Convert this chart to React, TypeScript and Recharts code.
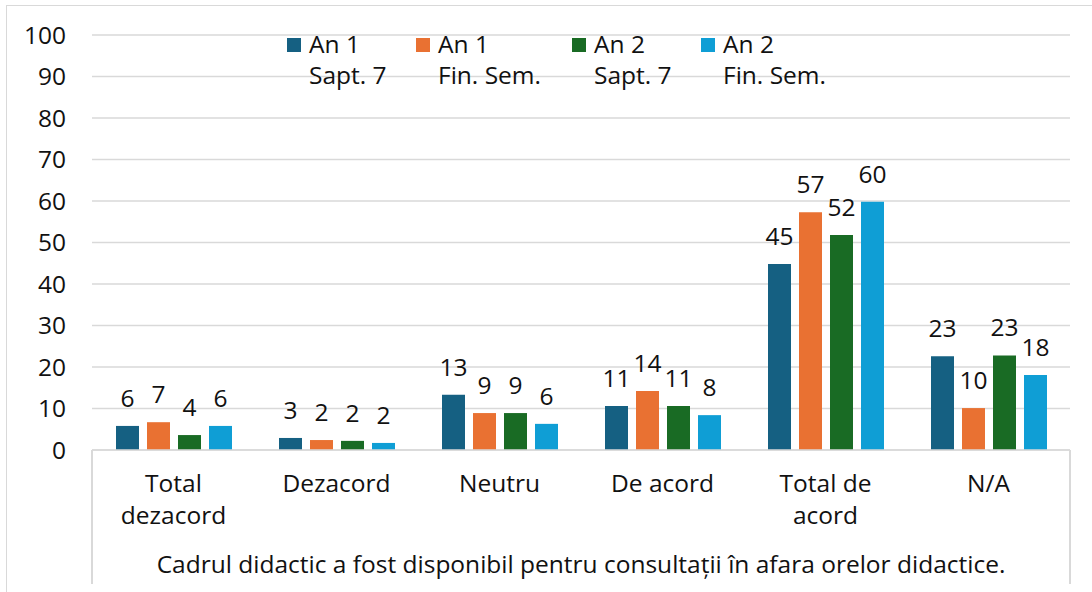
import React from 'react';
import { BarChart, Bar, XAxis, YAxis, CartesianGrid, Legend, LabelList } from 'recharts';

const categories = ['Total\ndezacord', 'Dezacord', 'Neutru', 'De acord', 'Total de\nacord', 'N/A'];
const an1Sapt7 = [5.8, 2.9, 13.3, 10.6, 44.8, 22.6];
const an1FinSem = [6.7, 2.4, 8.9, 14.2, 57.3, 10.1];
const an2Sapt7 = [3.6, 2.2, 8.9, 10.6, 51.8, 22.8];
const an2FinSem = [5.8, 1.7, 6.3, 8.4, 59.8, 18.1];
const yTicks = [0, 10, 20, 30, 40, 50, 60, 70, 80, 90, 100];
const axisTitle = 'Cadrul didactic a fost disponibil pentru consultații în afara orelor didactice.';

const series = [
  { key: 'a1s7', name: 'An 1\nSapt. 7', color: '#156082' },
  { key: 'a1fs', name: 'An 1\nFin. Sem.', color: '#E97132' },
  { key: 'a2s7', name: 'An 2\nSapt. 7', color: '#196B24' },
  { key: 'a2fs', name: 'An 2\nFin. Sem.', color: '#0F9ED5' },
];

const data = categories.map((c, i) => ({
  category: c,
  a1s7: an1Sapt7[i],
  a1fs: an1FinSem[i],
  a2s7: an2Sapt7[i],
  a2fs: an2FinSem[i],
}));

const FONT = '"Open Sans", "Liberation Sans", Arial, sans-serif';
const FS = 24.5;
const TEXT = '#111';
const GRID = '#d9d9d9';
// legend item widths (square + text + spacing), as in the reference
const legendWidths = [129, 156, 129, 140];

function CategoryTick({ x, y, payload }: any) {
  const lines = String(payload.value).split('\n');
  return (
    <g>
      {lines.map((l, i) => (
        <text key={i} x={x} y={y + 42 + i * 32} textAnchor="middle" fill={TEXT} fontSize={FS} fontFamily={FONT}>
          {l}
        </text>
      ))}
    </g>
  );
}

function LegendContent() {
  return (
    <div style={{ display: 'flex', fontFamily: FONT, fontSize: FS, color: TEXT }}>
      {series.map((s, i) => {
        const [l1, l2] = s.name.split('\n');
        return (
          <div key={s.key} style={{ display: 'flex', alignItems: 'flex-start', width: legendWidths[i] }}>
            <div style={{ width: 14, height: 14, background: s.color, marginTop: 10, marginRight: 8, flex: 'none' }} />
            <div style={{ lineHeight: '31px', whiteSpace: 'nowrap' }}>
              <div>{l1}</div>
              <div>{l2}</div>
            </div>
          </div>
        );
      })}
    </div>
  );
}

export default function App() {
  return (
    <div style={{ position: 'absolute', left: 0, top: 0, width: 1092, height: 592, overflow: 'hidden', background: '#fff' }}>
      <div
        style={{
          position: 'absolute',
          left: 6,
          top: 5,
          width: 1200,
          height: 700,
          borderTop: `1.5px solid ${GRID}`,
          borderLeft: `1.5px solid ${GRID}`,
        }}
      />
      <BarChart
        width={1092}
        height={592}
        data={data}
        margin={{ top: 35, right: 22, left: 12, bottom: 112 }}
        barCategoryGap={24}
        barGap={8}
        style={{ position: 'absolute', left: 0, top: 0 }}
      >
        <CartesianGrid vertical={false} stroke={GRID} strokeWidth={1.5} />
        <XAxis
          dataKey="category"
          height={30}
          axisLine={{ stroke: GRID, strokeWidth: 1.5 }}
          tickLine={false}
          tickSize={0}
          tickMargin={0}
          interval={0}
          tick={<CategoryTick />}
        />
        <YAxis
          domain={[0, 100]}
          ticks={yTicks}
          width={80}
          axisLine={false}
          tickLine={false}
          tickMargin={20}
          tick={{ fill: TEXT, fontSize: FS, fontFamily: FONT }}
        />
        <Legend
          verticalAlign="middle"
          layout="horizontal"
          content={<LegendContent />}
          wrapperStyle={{ top: 28, left: 287, width: 'auto' }}
        />
        {series.map((s) => (
          <Bar key={s.key} dataKey={s.key} name={s.name} fill={s.color} isAnimationActive={false}>
            <LabelList
              dataKey={s.key}
              position="top"
              offset={19}
              formatter={(v: any) => Math.round(Number(v))}
              style={{ fill: TEXT, fontSize: FS, fontFamily: FONT }}
            />
          </Bar>
        ))}
      </BarChart>
      <div style={{ position: 'absolute', left: 91, top: 450, width: 1.5, height: 134, background: GRID }} />
      <div style={{ position: 'absolute', left: 1069, top: 450, width: 1.5, height: 134, background: GRID }} />
      <div
        style={{
          position: 'absolute',
          left: 92,
          width: 978,
          top: 548,
          lineHeight: '32px',
          textAlign: 'center',
          fontFamily: FONT,
          fontSize: FS,
          color: TEXT,
          whiteSpace: 'nowrap',
        }}
      >
        {axisTitle}
      </div>
    </div>
  );
}
